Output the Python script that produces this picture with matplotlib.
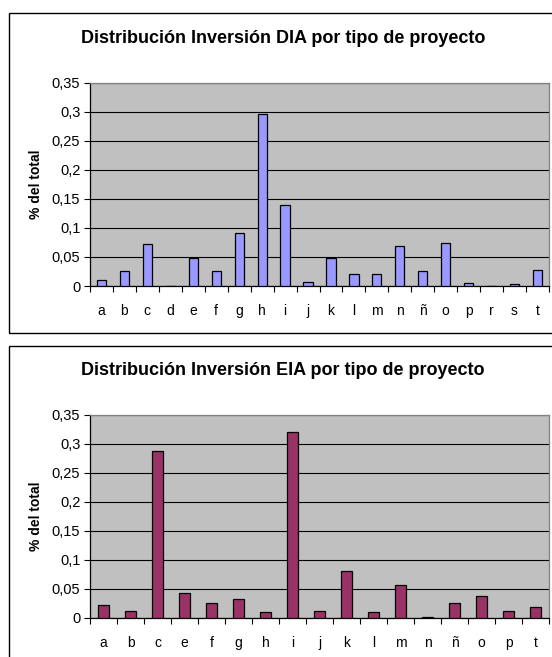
import matplotlib
matplotlib.use("Agg")
import matplotlib.pyplot as plt
import numpy as np
from matplotlib.patches import Rectangle
from matplotlib.ticker import FuncFormatter, MultipleLocator

plt.rcParams['font.family'] = ['Liberation Sans', 'DejaVu Sans']

# DIA: share of total investment per project type
dia_labels = ['a', 'b', 'c', 'd', 'e', 'f', 'g', 'h', 'i', 'j',
              'k', 'l', 'm', 'n', 'ñ', 'o', 'p', 'r', 's', 't']
dia_values = [0.010, 0.026, 0.072, 0.0, 0.048, 0.026, 0.092, 0.296, 0.139, 0.007,
              0.048, 0.020, 0.020, 0.069, 0.026, 0.074, 0.006, 0.0, 0.003, 0.028]

# EIA: share of total investment per project type
eia_labels = ['a', 'b', 'c', 'e', 'f', 'g', 'h', 'i', 'j',
              'k', 'l', 'm', 'n', 'ñ', 'o', 'p', 't']
eia_values = [0.022, 0.011, 0.288, 0.042, 0.025, 0.032, 0.009, 0.321, 0.011,
              0.081, 0.010, 0.056, 0.002, 0.026, 0.038, 0.011, 0.018]

W, H = 552, 657


def comma_fmt(v, pos):
    return ('%g' % round(v, 2)).replace('.', ',')


def draw_chart(fig, rect, labels, values, color, width):
    ax = fig.add_axes(rect)
    ax.set_facecolor('#C0C0C0')
    x = np.arange(len(labels))
    ax.bar(x, values, width=width, color=color, edgecolor='black',
           linewidth=0.9, zorder=3)
    ax.set_xlim(-0.5, len(labels) - 0.5)
    ax.set_ylim(0, 0.35)
    ax.yaxis.set_major_locator(MultipleLocator(0.05))
    ax.yaxis.set_major_formatter(FuncFormatter(comma_fmt))
    ax.grid(axis='y', color='black', linewidth=0.8, zorder=1)
    # category labels centred, tick marks between categories
    ax.set_xticks(x)
    ax.set_xticklabels(labels)
    ax.set_xticks(np.arange(len(labels) + 1) - 0.5, minor=True)
    ax.tick_params(axis='x', which='major', length=0, pad=13, labelsize=10)
    ax.tick_params(axis='x', which='minor', length=4, width=0.8, direction='out')
    ax.tick_params(axis='y', length=4, width=0.8, direction='out', pad=3,
                   labelsize=10.5)
    for s in ('top', 'right'):
        ax.spines[s].set_color('#808080')
        ax.spines[s].set_linewidth(0.9)
    for s in ('left', 'bottom'):
        ax.spines[s].set_color('black')
        ax.spines[s].set_linewidth(0.9)
    ax.set_ylabel('% del total', fontsize=10, fontweight='bold', labelpad=6)
    return ax


fig = plt.figure(figsize=(W / 100, H / 100), dpi=100)

# chart frames
fig.patches.append(Rectangle((8.5 / W, 1 - 333.3 / H), 0.99, (333.3 - 13.3) / H,
                             transform=fig.transFigure, fill=False,
                             edgecolor='black', linewidth=1.0))
fig.patches.append(Rectangle((8.5 / W, -0.05), 0.99, (1 - 345.5 / H) + 0.05,
                             transform=fig.transFigure, fill=False,
                             edgecolor='black', linewidth=1.0))

draw_chart(fig, [90 / W, 1 - 286 / H, 459 / W, 203.3 / H],
           dia_labels, dia_values, '#9999FF', 0.4)
draw_chart(fig, [90 / W, 1 - 617.7 / H, 459 / W, 202.7 / H],
           eia_labels, eia_values, '#993366', 0.43)

fig.text(283 / W, 1 - 38.5 / H, 'Distribución Inversión DIA por tipo de proyecto',
         ha='center', va='center', fontsize=13, fontweight='bold')
fig.text(283 / W, 1 - 370.7 / H, 'Distribución Inversión EIA por tipo de proyecto',
         ha='center', va='center', fontsize=13, fontweight='bold')

fig.savefig('out.png', dpi=100)
